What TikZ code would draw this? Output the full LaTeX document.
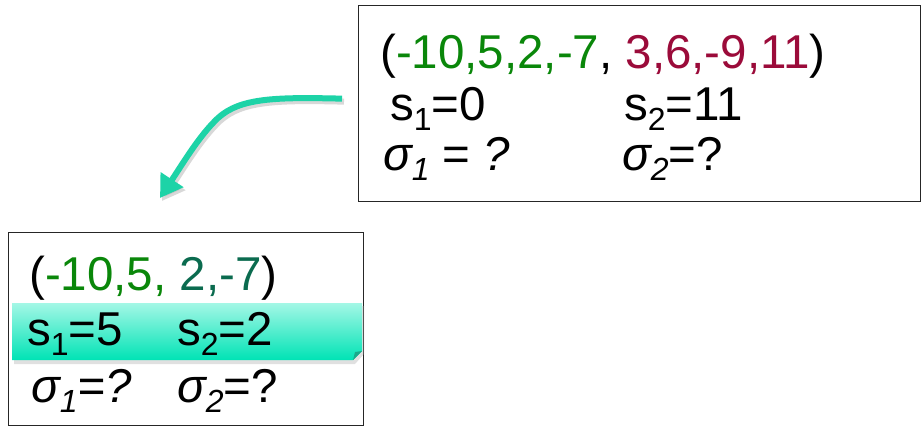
\documentclass[tikz,border=0pt]{standalone}
\usepackage{fontspec}
\setmainfont{Liberation Sans}
\usetikzlibrary{arrows.meta,shadows,calc}
\definecolor{tgreen}{HTML}{0A870A}
\definecolor{tdkgreen}{HTML}{0B6B4F}
\definecolor{tred}{HTML}{9B0B3A}
\definecolor{tteal}{HTML}{1DD3A7}
\definecolor{bandtop}{HTML}{A4F7E6}
\definecolor{bandbot}{HTML}{00E3B5}
\newcommand{\mysub}[1]{\raisebox{-0.22em}{\fontsize{32}{32}\selectfont #1}}
\tikzset{
  txt/.style={anchor=base west, inner sep=0pt, font=\fontsize{47.5}{56}\selectfont},
  boxline/.style={draw=black!85, line width=1.3pt},
}
\begin{document}
\begin{tikzpicture}[x=1pt,y=-1pt]
\useasboundingbox (0,0) rectangle (922,429);
% big box
\node[boxline, minimum width=562pt, minimum height=196pt, anchor=north west, inner sep=0pt] (big) at (358,5) {};
% small box
\node[boxline, minimum width=355pt, minimum height=193pt, anchor=north west, inner sep=0pt] (small) at (8,232) {};
% teal band
\fill[black!35, opacity=0.35] (14,306) -- (364,306) -- (364,354) -- (355,364) -- (14,364) -- cycle;
\shade[top color=bandtop, bottom color=bandbot] (12,303) -- (362,303) -- (362,351) -- (353,360) -- (12,360) -- cycle;
\fill[bandbot!70!black!90] (362,351) -- (353,360) -- (355,352) -- cycle;
% texts big box
\node[txt] (t1) at (380,68) {(\textcolor{tgreen}{-10,5,2,-7}, \textcolor{tred}{3,6,-9,11})};
\node[txt] (t2) at (390,120) {s\mysub{1}=0};
\node[txt] (t3) at (624,120) {s\mysub{2}=11};
\node[txt] (t4) at (383,170) {\textit{σ\mysub{1}} = \textit{?}};
\node[txt] (t5) at (622,170) {\textit{σ\mysub{2}}=?};
% texts small box
\node[txt] (u1) at (29,290) {(\textcolor{tgreen}{-10,5,} \textcolor{tdkgreen}{2,-7})};
\node[txt] (u2) at (27,345) {s\mysub{1}=5};
\node[txt] (u3) at (177,345) {s\mysub{2}=2};
\node[txt] (u4) at (31,402) {\textit{σ\mysub{1}=?}};
\node[txt] (u5) at (177,402) {\textit{σ\mysub{2}}=?};
% arrow
\coordinate (as) at ($(big.west)+(-16,-5)$);
\coordinate (ae) at (160,198);
\coordinate (am) at (218,118);
\draw[black!30, opacity=0.5, line width=6pt, -{Triangle[length=22pt,width=26pt]}]
  ($(as)+(2,3)$) .. controls ($(275,97)+(2,3)$) and ($(240,98)+(2,3)$) .. ($(am)+(2,3)$)
  .. controls ($(200,135)+(2,3)$) and ($(185,160)+(2,3)$) .. ($(ae)+(2,3)$);
\draw[tteal, line width=6pt, -{Triangle[length=22pt,width=26pt]}]
  (as) .. controls (275,97) and (240,98) .. (am)
  .. controls (200,135) and (185,160) .. (ae);
\end{tikzpicture}
\end{document}
